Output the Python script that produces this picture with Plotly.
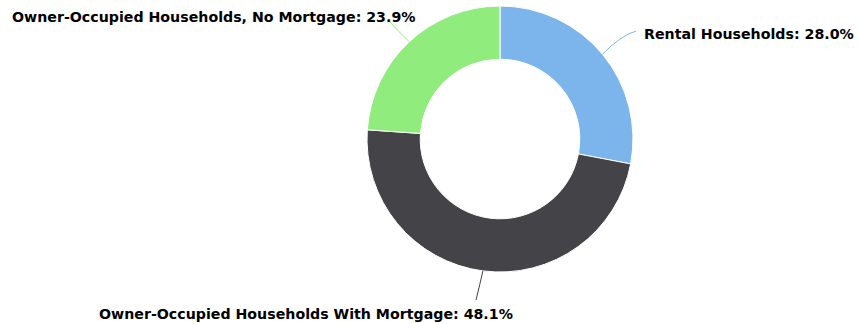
import math
import plotly.graph_objects as go

# Household tenure breakdown
categories = ["Rental Households", "Owner-Occupied Households With Mortgage",
              "Owner-Occupied Households, No Mortgage"]
shares = [28.0, 48.1, 23.9]
colors = ["#7cb5ec", "#434348", "#90ed7d"]

W, H = 858, 324
CX, CY, R = 500, 139, 133  # donut centre and outer radius in pixels

fig = go.Figure(go.Pie(
    labels=categories,
    values=shares,
    sort=False,
    direction="clockwise",
    rotation=0,
    hole=0.6,
    marker=dict(colors=colors, line=dict(color="#ffffff", width=1)),
    textinfo="none",
    hoverinfo="label+percent",
    domain=dict(x=[(CX - R) / W, (CX + R) / W],
                y=[1 - (CY + R) / H, 1 - (CY - R) / H]),
    showlegend=False,
))


def px(x, y):
    return x / W, 1 - y / H


# label placement: anchor point, anchor side, connector end and bend control
label_layout = [
    dict(x=856, y=34, xanchor="right", end=(636, 31), ctrl=(620, 36)),
    dict(x=515, y=314, xanchor="right", end=(476, 300), ctrl=(480, 284)),
    dict(x=417, y=17, xanchor="right", end=(390, 22), ctrl=(398, 31)),
]

total = sum(shares)
cum = 0.0
for name, val, col, lay in zip(categories, shares, colors, label_layout):
    mid = (cum + val / 2) / total * 2 * math.pi
    cum += val
    sx = CX + R * math.sin(mid)
    sy = CY - R * math.cos(mid)
    p0 = px(sx, sy)
    p1 = px(*lay["ctrl"])
    p2 = px(*lay["end"])
    fig.add_shape(
        type="path", xref="paper", yref="paper",
        path=f"M {p0[0]},{p0[1]} Q {p1[0]},{p1[1]} {p2[0]},{p2[1]}",
        line=dict(color=col, width=1),
    )
    ax, ay = px(lay["x"], lay["y"])
    fig.add_annotation(
        x=ax, y=ay, xref="paper", yref="paper",
        xanchor=lay["xanchor"], yanchor="middle",
        text=f"<b>{name}: {val:.1f}%</b>",
        showarrow=False,
        font=dict(family="DejaVu Sans", size=14.2, color="#000000"),
    )

fig.update_layout(
    width=W, height=H,
    margin=dict(l=0, r=0, t=0, b=0),
    paper_bgcolor="#ffffff",
    plot_bgcolor="#ffffff",
)

fig.write_html("out.html")
